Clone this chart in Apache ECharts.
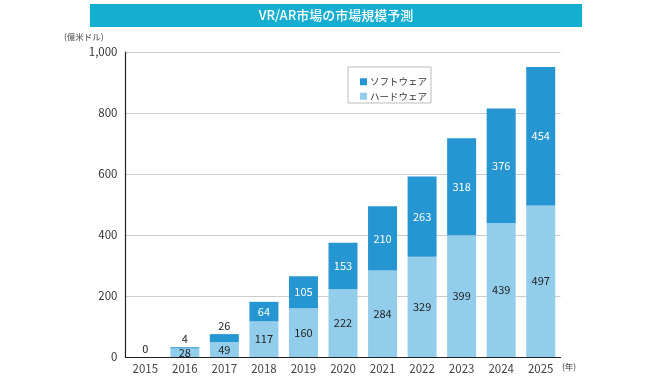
<!DOCTYPE html>
<html><head><meta charset="utf-8">
<script src="https://cdn.jsdelivr.net/npm/echarts@6/dist/echarts.min.js"></script>
<style>html,body{margin:0;padding:0;background:#fff}#c{width:668px;height:376px}</style>
</head><body><div id="c"></div>
<script>
var years = ['2015','2016','2017','2018','2019','2020','2021','2022','2023','2024','2025'];
var hardware = [0, 28, 49, 117, 160, 222, 284, 329, 399, 439, 497];
var software = [0, 4, 26, 64, 105, 153, 210, 263, 318, 376, 454];
var yTicks = [0, 200, 400, 600, 800, 1000];

var FONT = '"Noto Sans CJK JP", "Noto Sans", sans-serif';
var chart = echarts.init(document.getElementById('c'));

var hwData = hardware.map(function(v, i){
  var d = {value: v};
  if (v === 0) d.label = {show: false};
  return d;
});
var swData = software.map(function(v, i){
  var d = {value: v};
  if (v < 40) d.label = {position: 'top', color: '#222', distance: 3};
  return d;
});

chart.setOption({
  animation: false,
  textStyle: {fontFamily: FONT},
  graphic: [
    {type: 'rect', shape: {x: 90, y: 4, width: 492, height: 23}, style: {fill: '#15aed1'}},
    {type: 'text', x: 336, y: 15.5, style: {text: 'VR/AR市場の市場規模予測', fill: '#fff', font: '500 13px ' + FONT, textAlign: 'center', textVerticalAlign: 'middle'}},
    {type: 'text', x: 64, y: 37, style: {text: '(億米ドル)', fill: '#444', font: '8.5px ' + FONT, textVerticalAlign: 'middle'}},
    {type: 'text', x: 562, y: 367, style: {text: '(年)', fill: '#444', font: '8.5px ' + FONT, textVerticalAlign: 'middle'}},
    {type: 'rect', shape: {x: 348, y: 67, width: 83, height: 36}, style: {fill: '#fff', stroke: '#bbb', lineWidth: 1}}
  ],
  legend: {
    left: 355, top: 72, orient: 'vertical', itemGap: 5, itemWidth: 7, itemHeight: 7, icon: 'rect',
    data: ['ソフトウェア', 'ハードウェア'],
    textStyle: {fontSize: 9.5, color: '#333', fontFamily: FONT, padding: [0,0,0,-2]}
  },
  grid: {left: 125.5, top: 52, width: 435, height: 305},
  xAxis: {
    type: 'category', data: years,
    axisLine: {lineStyle: {color: '#222', width: 1.2}},
    axisTick: {show: false},
    axisLabel: {color: '#444', fontSize: 11.5, margin: 6, fontFamily: FONT}
  },
  yAxis: {
    type: 'value', min: 0, max: 1000, interval: 200,
    axisLine: {show: true, lineStyle: {color: '#222', width: 1.2}},
    axisTick: {show: false},
    splitLine: {lineStyle: {color: '#ccc', width: 1}},
    axisLabel: {color: '#333', fontSize: 11.5, margin: 8, fontFamily: FONT,
      formatter: function(v){ return v === 1000 ? '1,000' : String(v); }}
  },
  series: [
    {name: 'ハードウェア', type: 'bar', stack: 't', barWidth: 29, data: hwData,
      itemStyle: {color: '#93cdec'},
      label: {show: true, position: 'inside', color: '#222', fontSize: 11, fontFamily: FONT}},
    {name: 'ソフトウェア', type: 'bar', stack: 't', barWidth: 29, data: swData,
      itemStyle: {color: '#2596d2'},
      label: {show: true, position: 'inside', color: '#fff', fontSize: 11, fontFamily: FONT}}
  ]
});
</script></body></html>
